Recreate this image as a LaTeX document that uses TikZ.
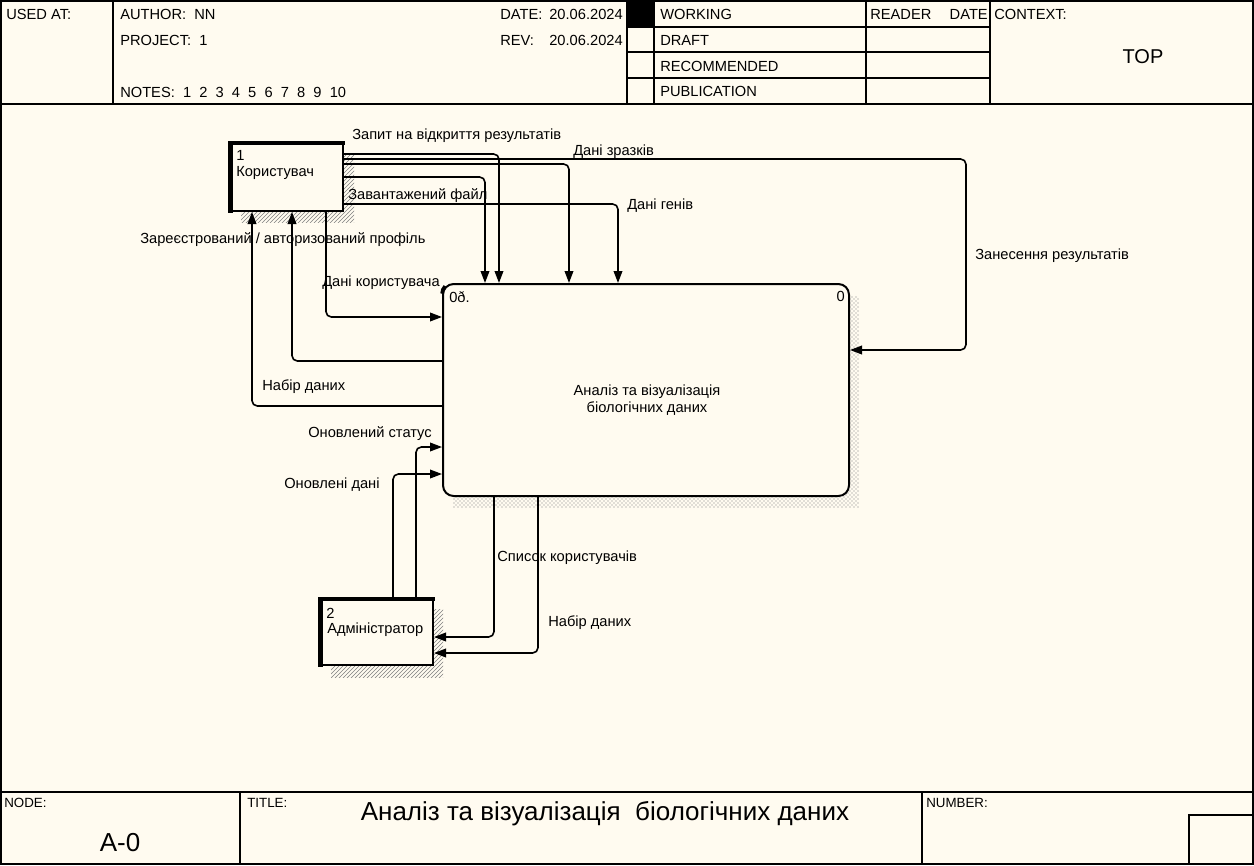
\documentclass[tikz,border=0pt]{standalone}
\usepackage{fontspec}
\setmainfont{Liberation Sans}
\usetikzlibrary{arrows.meta,patterns}
\definecolor{bg}{RGB}{255,251,240}
\begin{document}
\begin{tikzpicture}[x=0.75pt,y=-0.75pt,
  frame/.style={line width=1.1pt},
  conn/.style={line width=1.2pt, rounded corners=4pt},
  arr/.style={conn, -{Triangle[length=9pt,width=6.5pt]}},
  lbl/.style={font=\fontsize{11}{13}\selectfont, inner sep=0pt, anchor=west},
  hdr/.style={font=\fontsize{11}{13}\selectfont, inner sep=0pt, anchor=west},
  small/.style={font=\fontsize{10}{12}\selectfont, inner sep=0pt, anchor=north west},
  ubox/.style={draw, fill=bg, line width=1.5pt, inner sep=0pt, minimum width=84.75pt},
  shadowA/.style={pattern=north east lines, pattern color=gray},
  shadowB/.style={pattern=crosshatch dots, pattern color=gray},
]
\fill[bg] (0,0) rectangle (1254,865);
\useasboundingbox (0,0) rectangle (1254,865);
% outer frame
\draw[frame] (1,1) rectangle (1253,864);
% header
\draw[frame] (1,104) -- (1253,104);
\foreach \xx in {113,627,654,866,990} \draw[frame] (\xx,1) -- (\xx,104);
\foreach \yy in {27,52,78} \draw[frame] (627,\yy) -- (990,\yy);
\fill (627,1) rectangle (654,27);
\node[hdr] (h1) at (6,14) {USED AT:};
\node[hdr] (h2) at (120,14) {AUTHOR:\ \ NN};
\node[hdr] (h3) at (120,40) {PROJECT:\ \ 1};
\node[hdr] (h4) at (120,92) {NOTES:\ \ 1\ \ 2\ \ 3\ \ 4\ \ 5\ \ 6\ \ 7\ \ 8\ \ 9\ \ 10};
\node[hdr] (h5) at (500,14) {DATE:};
\node[hdr, anchor=east] (h6) at (623,14) {20.06.2024};
\node[hdr] (h7) at (500,40) {REV:};
\node[hdr, anchor=east] (h8) at (623,40) {20.06.2024};
\node[hdr] (h9) at (660,14) {WORKING};
\node[hdr] (h10) at (660,40) {DRAFT};
\node[hdr] (h11) at (660,66) {RECOMMENDED};
\node[hdr] (h12) at (660,91) {PUBLICATION};
\node[hdr] (h13) at (870,14) {READER};
\node[hdr, anchor=east] (h14) at (988,14) {DATE};
\node[hdr] (h15) at (994,14) {CONTEXT:};
\node[font=\fontsize{15}{18}\selectfont, inner sep=0pt] (h16) at (1143,57) {TOP};
% footer
\draw[frame] (1,792) -- (1253,792);
\draw[frame] (240,792) -- (240,864);
\draw[frame] (922,792) -- (922,864);
\draw[frame] (1189,815) rectangle (1253,864);
\node[small] (f1) at (4,798) {NODE:};
\node[small] (f2) at (247,798) {TITLE:};
\node[small] (f3) at (926,798) {NUMBER:};
\node[font=\fontsize{19.5}{22}\selectfont, inner sep=0pt] (f4) at (120,843) {A-0};
\node[font=\fontsize{19.5}{22}\selectfont, inner sep=0pt] (f5) at (605,814) {Аналіз та візуалізація\ \ біологічних даних};
% shadows
\fill[shadowA] (241,154) rectangle (354,222);
\fill[shadowA] (331,609) rectangle (443,677);
\fill[shadowB] (453,296) rectangle (859,507);
% boxes
\node[ubox, minimum height=51pt] (user) at (286.5,177) {};
\node[ubox, minimum height=49.5pt] (admin) at (376.5,632) {};
\node[draw, fill=bg, line width=1.5pt, rounded corners=8pt, inner sep=0pt,
      minimum width=304.5pt, minimum height=159pt] (proc) at (646,390) {};
\fill ([xshift=-0.75pt,yshift=0.75pt]user.north west) rectangle ([xshift=0.75pt,yshift=-2.25pt]user.north east);
\fill ([xshift=-0.75pt,yshift=0.75pt]user.north west) rectangle ([xshift=3pt,yshift=-0.75pt]user.south west);
\fill ([xshift=-0.75pt,yshift=0.75pt]admin.north west) rectangle ([xshift=0.75pt,yshift=-2.25pt]admin.north east);
\fill ([xshift=-0.75pt,yshift=0.75pt]admin.north west) rectangle ([xshift=3pt,yshift=-0.75pt]admin.south west);
\draw[line width=2.6pt] ([yshift=-8pt]proc.north west) arc[start angle=180,end angle=135,radius=8pt];
% box texts
\node[lbl] (u1) at (236,155) {1};
\node[lbl] (u2) at (236,173) {Користувач};
\node[lbl] (a1) at (326,613) {2};
\node[lbl] (a2) at (327,630) {Адміністратор};
\node[lbl] (p1) at (449,297) {0ð.};
\node[lbl, anchor=east] (p2) at (845,296) {0};
\node[font=\fontsize{11}{13}\selectfont, align=center, inner sep=0pt] (p3) at (647,400) {Аналіз та візуалізація\\біологічних даних};
% connectors
\draw[arr] (user.east |- 0,154) -| (proc.north -| 499,0);
\draw[arr] (user.east |- 0,159) -- (966,159) |- (proc.east |- 0,350);
\draw[arr] (user.east |- 0,164) -| (proc.north -| 569,0);
\draw[arr] (user.east |- 0,177) -| (proc.north -| 485,0);
\draw[arr] (user.east |- 0,204) -| (proc.north -| 618,0);
\draw[arr] (proc.west |- 0,406) -| (user.south -| 252,0);
\draw[arr] (proc.west |- 0,361) -| (user.south -| 292,0);
\draw[arr] (user.south -| 326,0) |- (proc.west |- 0,317);
\draw[arr] (admin.north -| 416,0) |- (proc.west |- 0,447);
\draw[arr] (admin.north -| 393,0) |- (proc.west |- 0,474);
\draw[arr] (proc.south -| 494,0) |- (admin.east |- 0,637);
\draw[arr] (proc.south -| 538,0) |- (admin.east |- 0,653);
% connector labels
\node[lbl] (l1) at (352,136) {Запит на відкриття результатів};
\node[lbl] (l2) at (573,152) {Дані зразків};
\node[lbl] (l3) at (348,196) {Завантажений файл};
\node[lbl] (l4) at (627,206) {Дані генів};
\node[lbl] (l5) at (140,240) {Зареєстрований / авторизований профіль};
\node[lbl] (l6) at (322,283) {Дані користувача};
\node[lbl] (l7) at (262,387) {Набір даних};
\node[lbl] (l8) at (308,434) {Оновлений статус};
\node[lbl] (l9) at (284,485) {Оновлені дані};
\node[lbl] (l10) at (497,558) {Список користувачів};
\node[lbl] (l11) at (548,623) {Набір даних};
\node[lbl] (l12) at (975,256) {Занесення результатів};
\end{tikzpicture}
\end{document}
